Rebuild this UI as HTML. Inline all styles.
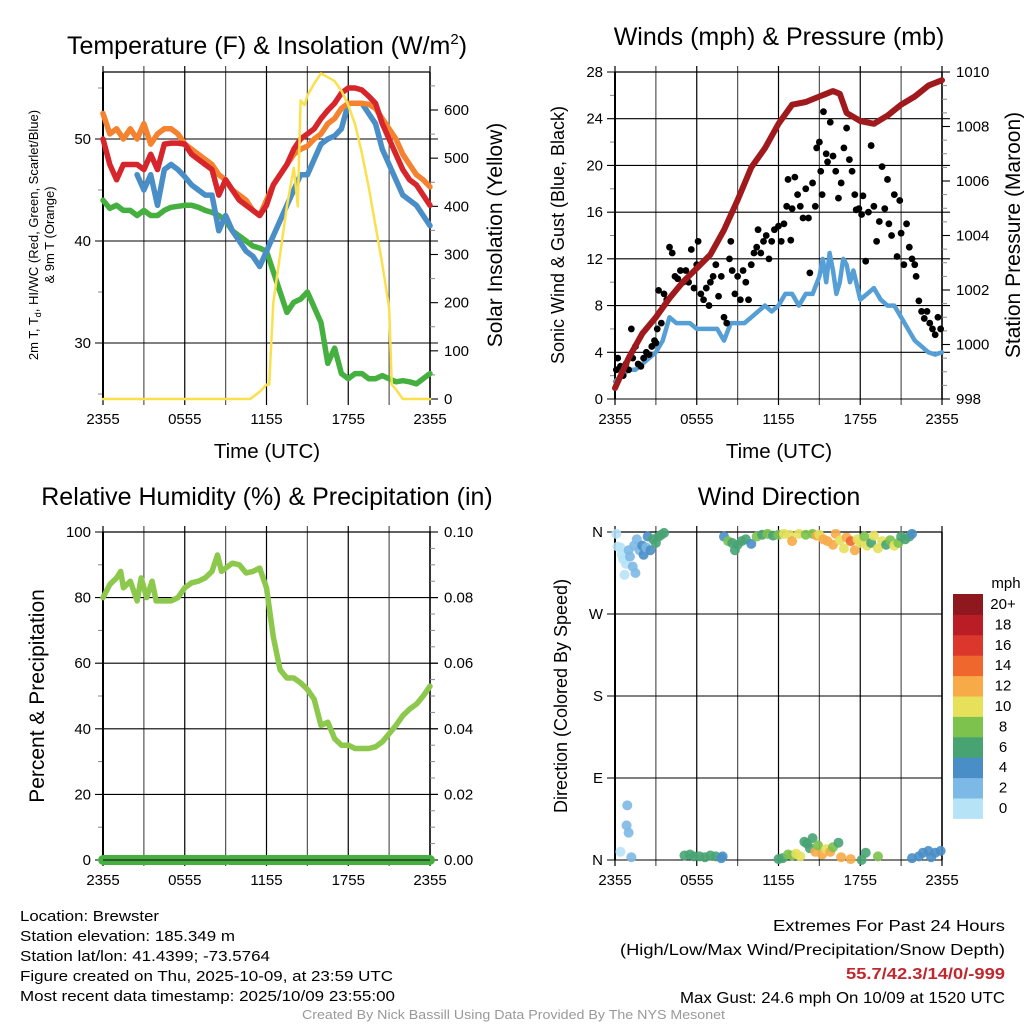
<!DOCTYPE html>
<html><head><meta charset="utf-8"><style>
html,body{margin:0;padding:0;background:#fff;}
svg{display:block;font-family:"Liberation Sans",sans-serif;}
</style></head><body>
<svg id="s" width="1024" height="1024" viewBox="0 0 1024 1024" xmlns="http://www.w3.org/2000/svg"></svg>
<script>
// ---------- DATA ----------
const xTickLabels = ["2355","0555","1155","1755","2355"];
const tempHours = [0,0.5,1,1.5,2,2.5,3,3.5,4,4.5,5,5.5,6,6.5,7,7.5,8,8.5,9,9.5,10,10.5,11,11.5,12,12.5,13,13.5,14,14.5,15,15.5,16,16.5,17,17.5,18,18.5,19,19.5,20,20.5,21,21.5,22,22.5,23,23.5,24];
const temp2m = [50,47.5,46,47.5,47.5,47.5,47,48.5,47,49.5,49.6,49.6,49.5,48.5,48,47.5,47,44.5,46,45,44,43.5,43,42.5,43.5,45.5,46.5,47.5,49,50,50.5,51,52,52.8,53.5,54.5,55,55,54.8,54.2,53.5,51.5,50,48.5,47,46,45.5,44.5,43.5];
const temp9m = [52.5,50.5,51,50,51,50,51.5,49.5,50.5,51,51,50.5,49.5,49,48.5,48,47.5,46.5,46,45,44.5,44,43,42.5,44,45.5,46.5,47.5,48.5,49,49.3,50,50.5,51.5,52,53,53.5,53.5,53.5,53.4,53,52,51,50,48.5,47.5,46.5,46,45.3];
const dewpt = [44,43.2,43.5,43,43,42.5,43,42.5,42.5,43,43.3,43.4,43.5,43.5,43.3,43,42.8,42.5,42,41,40.5,40,39.5,39.3,39,37,35,33,34,34.3,35,33.5,32,28,29.5,27,26.5,27,27,26.5,26.5,26.8,26.5,26.2,26.3,26.2,26,26.5,27];
const hiwcHours = [2.5,3,3.5,4,4.5,5,5.5,6,6.5,7,7.5,8,8.5,9,9.5,10,10.5,11,11.5,12,12.5,13,13.5,14,14.5,15,15.5,16,16.5,17,17.5,18,18.5,19,19.5,20,20.5,21,21.5,22,22.5,23,23.5,24];
const hiwc = [46.5,45,46.5,43.5,47,47.5,47,46.3,45.5,45,44.5,44.5,41,42.5,41,40,39,38.5,37.5,39,40.5,42,43.5,45,46.5,46.5,48,49.5,50,50.3,51,53.5,53.5,53.5,52.5,51.5,49,47.5,46,44.5,44,43.5,42.5,41.5];
const solarHours = [0,10.8,11.5,12,12.2,12.5,13,13.5,14,14.3,14.5,14.8,15,15.5,16,16.5,17,17.5,18,18.5,19,19.5,20,20.5,21,21.2,21.5,22,24];
const solar = [0,0,15,30,30,200,300,400,480,400,620,610,630,655,676,668,660,640,610,570,510,440,360,280,190,30,20,0,0];

const presHours = [0,1,2,3,4,5,6,7,8,9,10,11,12,13,14,15,15.5,16,16.5,17,18,19,20,21,22,23,24];
const pressure = [998.4,999.5,1000.4,1001,1001.7,1002.3,1002.8,1003.3,1004.2,1005.3,1006.5,1007.2,1008.1,1008.8,1008.9,1009.1,1009.2,1009.3,1009.2,1008.5,1008.2,1008.1,1008.4,1008.8,1009.1,1009.5,1009.7];
const windHours = [0,0.5,1,1.5,2,2.5,3,3.5,4,4.5,5,5.5,6,6.5,7,7.5,8,8.5,9,9.5,10,10.5,11,11.5,12,12.5,13,13.5,14,14.5,15,15.25,15.5,15.75,16,16.25,16.5,16.75,17,17.25,17.5,18,18.5,19,19.5,20,20.5,21,21.5,22,22.5,23,23.5,24];
const windSpeed = [1.5,2,2.5,2.5,3,3.5,4,5,7,6.5,6.5,6.5,6,6,6,6,5,6.5,6.5,6.5,7,7.5,8,7.5,8,9,9,8,9,9,10.5,12,10,12.5,11,9,10,12,11.5,10,11,8.5,9,9.5,8.5,8,8,7,6,5,4.5,4,3.8,4];
const gustHours = [0.1,0.2,0.4,0.6,0.8,1,1.2,1.3,1.5,1.7,1.9,2.1,2.3,2.5,2.7,2.9,3,3.1,3.2,3.4,3.6,3.8,4,4.2,4.4,4.6,4.8,5,5.2,5.4,5.6,5.8,6,6.1,6.3,6.5,6.7,6.9,7,7.2,7.4,7.6,7.8,8,8.2,8.4,8.5,8.6,8.8,9,9.2,9.4,9.6,9.8,10,10.2,10.4,10.5,10.7,10.9,11.1,11.3,11.5,11.7,12,12.2,12.4,12.6,12.7,12.9,13,13.2,13.4,13.6,13.8,14,14.2,14.3,14.5,14.7,14.8,15,15.1,15.2,15.3,15.5,15.6,15.8,16,16.2,16.4,16.6,16.8,17,17.2,17.4,17.6,17.7,17.9,18.1,18.2,18.4,18.6,18.8,19,19.2,19.4,19.6,19.8,20,20.1,20.3,20.5,20.7,20.9,21,21.2,21.4,21.6,21.8,22,22.1,22.3,22.5,22.7,22.9,23.1,23.3,23.5,23.7,23.9];
const gusts = [2.5,3.5,2.8,2,3,2.5,6,3.5,4.5,3,2.8,3.5,4,3.8,4.5,5,4.8,6,9.3,6.5,9,8.5,13,12.5,10.5,10.3,11,10,11,10,12.8,9.5,11.5,13.5,9,8.5,9.5,8,10,10.5,11.5,8.8,10.5,7,6.5,12,13.5,11,9,10.5,8.5,11,10,8.5,11.5,12.5,13,14.5,12.5,13.5,14,12,13.5,14.5,14.8,13.5,15,16.5,18.8,13.6,16.3,19,17.5,16.5,15.5,18,15.5,10.8,18.5,16.5,21.5,22,19.5,17.5,24.6,21,20.3,23.7,20.8,19.5,17.2,18.5,21.5,23.2,20.5,19.5,17.5,16.2,16.3,15.8,17.4,11.8,16,21.7,16.5,13.5,15.2,19.9,16.3,18.8,15,14,17.5,12.2,17,14.2,11.5,15,13,12,11.5,10.5,8.4,7.5,6.9,7.5,6.5,6,5.5,7,6];

const rhHours = [0,0.5,1,1.3,1.5,2,2.5,2.8,3.2,3.6,3.9,4.5,5,5.5,6,6.5,7,7.5,8,8.4,8.7,9,9.5,10,10.5,11,11.5,12,12.5,13,13.5,14,14.5,15,15.5,16,16.5,17,17.5,18,18.5,19,19.5,20,20.5,21,21.5,22,22.5,23,23.5,24];
const rh = [80,84,86,88,83,85,79,86,80,85,79,79,79,80,83,84.5,85,86,88,93,88,89,90.5,90,87.5,88,89,83,68,58,55.5,55.5,54,52,49,41,42,37,35,35,34,34,34,34.5,36,38.5,41,44,46,47.5,50,53];
const precipSegments = [[0,9.05],[9.3,24]];
const precipValue = [0,0];

const dirHours = [0.1,0.2,0.4,0.5,0.6,0.7,0.8,1.0,1.1,1.3,1.4,1.5,1.6,1.8,2.0,2.1,2.3,2.4,2.6,2.8,3.0,3.2,3.4,3.6,8.0,8.3,8.6,8.8,9,9.3,9.6,10,10.4,10.8,11.2,11.6,12,12.4,12.8,13,13.5,14,14.5,14.8,15,15.3,15.6,16,16.2,16.5,16.8,17,17.3,17.6,17.8,18,18.3,18.5,18.8,19,19.3,19.6,19.9,20.2,20.5,20.8,21,21.3,21.6,21.8,0.4,0.9,0.85,1.0,1.2,5.1,5.5,5.8,6.2,6.6,7,7.4,7.8,7.9,12,12.3,12.7,13,13.3,13.6,13.9,14.1,14.3,14.5,14.7,14.9,15.2,15.5,15.8,16,16.4,16.6,17.3,18.1,18.4,19.3,21.8,22.3,22.6,23,23.5,23.9,23.2];
const dirDeg = [358,344,343,335,330,313,325,340,333,322,345,315,352,340,345,335,343,355,340,352,348,355,357,359,355,350,348,340,346,350,352,347,355,357,358,356,357,358,357,350,358,357,358,356,357,352,350,346,358,351,342,354,350,340,352,348,355,345,348,356,342,350,346,351,345,348,355,352,355,358,9,60,38,30,3,5,6,4,4,3,5,4,2,4,1,2,6,5,7,4,20,18,13,24,9,16,6,12,9,14,19,3,1,0,8,4,2,4,8,10,8,10,3];
const dirSpeed = [0,1,1,0,0,0,1,2,2,2,2,2,3,3,4,4,3,4,5,6,6,6,6,7,4,8,6,6,6,7,6,4,8,7,8,6,8,10,10,12,10,8,9,12,11,13,12,12,13,10,10,12,14,12,10,10,8,10,7,10,10,10,6,8,10,9,7,6,6,4,0,3,2,2,3,6,6,6,6,6,6,6,4,4,6,7,8,8,10,10,6,6,6,7,12,8,12,10,12,8,7,12,12,6,6,8,4,4,4,4,4,4,4];
const speedLabels = ["0","2","4","6","8","10","12","14","16","18","20+"];
const speedColors = ["#b7e3f7","#7db9e6","#4a8ec7","#48a373","#7cc24c","#e6e05b","#f6aa48","#ef672d","#dc372d","#bb1d27","#8e181d"];

// ---------- HELPERS ----------
const NS="http://www.w3.org/2000/svg";
const svg=document.getElementById('s');
function el(tag,attrs,parent){const e=document.createElementNS(NS,tag);for(const k in attrs)e.setAttribute(k,attrs[k]);(parent||svg).appendChild(e);return e;}
function txt(str,attrs,parent){const e=el('text',attrs,parent);e.textContent=str;return e;}
function lin(d0,d1,r0,r1){return v=>r0+(v-d0)/(d1-d0)*(r1-r0);}

function frame(name,L,T,R,B,yMaj,yMin,yFn,yLab,r){
  const g=el('g',{});
  
  
  const xs=lin(0,24,L,R);
  for(let h=0;h<=24;h+=3){const x=xs(h);
    el('line',{x1:x,y1:T-6,x2:x,y2:B+6,stroke:(h%6==0)?'#000':'#555','stroke-width':1.2},g);}
  yMaj.forEach((v,i)=>{const y=yFn(v);
    el('line',{x1:L-8,y1:y,x2:R+(r?8:0),y2:y,stroke:'#000','stroke-width':1.1},g);
    const t=txt(yLab[i],{x:L-12,y:y+5,'text-anchor':'end','font-size':15},g);
    });
  yMin.forEach(v=>{const y=yFn(v);el('line',{x1:L-5,y1:y,x2:L,y2:y,stroke:'#888','stroke-width':1},g);});
  el('line',{x1:L,y1:T,x2:R,y2:T,stroke:'#000','stroke-width':1.2},g);
  el('line',{x1:L,y1:T,x2:L,y2:B,stroke:'#000','stroke-width':2},g);
  el('line',{x1:R,y1:T,x2:R,y2:B,stroke:'#000','stroke-width':1.5},g);
  xTickLabels.forEach((s,i)=>{const t=txt(s,{x:xs(i*6),y:B+25,'text-anchor':'middle','font-size':15},g);
    });
  return g;
}
function rightAxis(g,R,maj,min,fn,labs){
  maj.forEach((v,i)=>{const y=fn(v);el('line',{x1:R,y1:y,x2:R+8,y2:y,stroke:'#000','stroke-width':1.1},g);
    const t=txt(labs[i],{x:R+14,y:y+5,'font-size':15},g);});
  min.forEach(v=>{const y=fn(v);el('line',{x1:R,y1:y,x2:R+5,y2:y,stroke:'#888','stroke-width':1},g);});
}
function poly(xsArr,ysArr,xf,yf,attrs,name){
  const pts=xsArr.map((h,i)=>xf(h).toFixed(1)+','+yf(ysArr[i]).toFixed(1)).join(' ');
  const p=el('polyline',Object.assign({points:pts,fill:'none','stroke-linejoin':'round','stroke-linecap':'round'},attrs));
  return p;
}
function range(a,b,s){const r=[];for(let v=a;v<=b+1e-9;v+=s)r.push(+v.toFixed(3));return r;}
function title(s,x,y,size,name){const t=txt(s,{x:x,y:y,'text-anchor':'middle','font-size':size});return t;}
function vtitle(s,x,y,size,name){const t=txt(s,{x:0,y:0,'text-anchor':'middle','font-size':size,transform:`translate(${x},${y}) rotate(-90)`});return t;}

// ---------- PANEL 1: Temperature ----------
{const L=103,R=430,T=72,B=399;
 const xf=lin(0,24,L,R), yT=lin(30,50,343,139), yS=lin(0,600,399,110);
 const g=frame('temperature-panel',L,T,R,B,[30,40,50],[25,35,45,55],yT,["30","40","50"],true);
 rightAxis(g,R,range(0,600,100),range(50,650,100),yS,range(0,600,100).map(String));
 poly(tempHours,dewpt,xf,yT,{stroke:'#45b03f','stroke-width':5.5},'dewpoint-line');
 poly(hiwcHours,hiwc,xf,yT,{stroke:'#4a8ec7','stroke-width':5.5},'heat-index-line');
 poly(tempHours,temp9m,xf,yT,{stroke:'#f5822e','stroke-width':5.5},'temp-9m-line');
 poly(tempHours,temp2m,xf,yT,{stroke:'#d7262b','stroke-width':5.5},'temp-2m-line');
 poly(solarHours,solar,xf,yS,{stroke:'#fbe04e','stroke-width':2.5},'solar-line');
 const t=title('',267,54,25,'temperature-title');t.innerHTML='Temperature (F) &amp; Insolation (W/m<tspan font-size="15" dy="-10">2</tspan><tspan dy="10">)</tspan>';
 title('Time (UTC)',267,458,20.5,'x-axis-title');
 const v=vtitle('',46,235,13,'temp-y-axis-title');v.innerHTML='<tspan x="0" dy="-8">2m T, T<tspan font-size="9" dy="3">d</tspan><tspan dy="-3">, HI/WC (Red, Green, Scarlet/Blue)</tspan></tspan><tspan x="0" dy="16">&amp; 9m T (Orange)</tspan>';
 vtitle('Solar Insolation (Yellow)',502,235,21,'solar-y-axis-title');
}
// ---------- PANEL 2: Winds ----------
{const L=615,R=942,T=72,B=399;
 const xf=lin(0,24,L,R), yW=lin(0,28,399,72), yP=lin(998,1010,399,72);
 const g=frame('winds-panel',L,T,R,B,range(0,28,4),range(2,26,4),yW,range(0,28,4).map(String),true);
 rightAxis(g,R,range(998,1010,2),range(998.5,1009.5,0.5).filter(v=>v%2!==0),yP,range(998,1010,2).map(String));
 poly(windHours,windSpeed,xf,yW,{stroke:'#559fd6','stroke-width':4.5},'wind-speed-line');
 gustHours.forEach((h,i)=>{const c=el('circle',{cx:xf(h),cy:yW(gusts[i]),r:3.4,fill:'#000'});
   });
 poly(presHours,pressure,xf,yP,{stroke:'#a0191c','stroke-width':6},'pressure-line');
 title('Winds (mph) & Pressure (mb)',779,45,25,'winds-title');
 title('Time (UTC)',779,458,20.5,'x-axis-title');
 vtitle('Sonic Wind & Gust (Blue, Black)',564,235,18,'wind-y-axis-title');
 vtitle('Station Pressure (Maroon)',1020,235,21,'pressure-y-axis-title');
}
// ---------- PANEL 3: RH ----------
{const L=103,R=430,T=532,B=860;
 const xf=lin(0,24,L,R), yR=lin(0,100,860,532), yPr=lin(0,0.1,860,532);
 const g=frame('humidity-panel',L,T,R,B,range(0,100,20),range(10,90,20),yR,range(0,100,20).map(String),true);
 rightAxis(g,R,range(0,0.1,0.02),range(0.005,0.095,0.005).filter(v=>Math.round(v*1000)%20!==0),yPr,["0.00","0.02","0.04","0.06","0.08","0.10"]);
 poly(rhHours,rh,xf,yR,{stroke:'#8cc84b','stroke-width':5.5},'rh-line');
 precipSegments.forEach((s,i)=>{const p=el('line',{x1:xf(s[0]),y1:yPr(precipValue[i]),x2:xf(s[1]),y2:yPr(precipValue[i]),stroke:'#45b03f','stroke-width':10,'stroke-linecap':'round'});
   });
 el('line',{x1:L,y1:B,x2:R,y2:B,stroke:'#222','stroke-width':1.2});
 title('Relative Humidity (%) & Precipitation (in)',267,505,25,'humidity-title');
 vtitle('Percent & Precipitation',44,696,21,'rh-y-axis-title');
}
// ---------- PANEL 4: Wind direction ----------
{const L=615,R=942,T=532,B=860;
 const xf=lin(0,24,L,R), yD=lin(0,360,860,532);
 frame('direction-panel',L,T,R,B,[0,90,180,270,360],[],yD,["N","E","S","W","N"],false);
 dirHours.forEach((h,i)=>{const bin=Math.min(10,Math.floor(dirSpeed[i]/2));
   const c=el('circle',{cx:xf(h),cy:yD(dirDeg[i]),r:5,fill:speedColors[bin],'fill-opacity':0.9});
   });
 title('Wind Direction',779,505,25,'direction-title');
 vtitle('Direction (Colored By Speed)',567,696,18,'direction-y-axis-title');
 const lg=el('g',{});
 const bh=20.4, top=594;
 speedColors.forEach((c,i)=>{const y=top+(10-i)*bh;
   const r=el('rect',{x:953,y:y,width:30,height:bh+0.5,fill:c},lg);
   const t=txt(speedLabels[i],{x:1003,y:y+15,'text-anchor':'middle','font-size':15},lg);});
 const m=txt('mph',{x:1006,y:588,'text-anchor':'middle','font-size':15},lg);
}
// ---------- FOOTER ----------
const leftInfo=[["Location: Brewster",139],["Station elevation: 185.349 m",215],["Station lat/lon: 41.4399; -73.5764",250],["Figure created on Thu, 2025-10-09, at 23:59 UTC",373],["Most recent data timestamp: 2025/10/09 23:55:00",375]];
leftInfo.forEach((a,i)=>{const t=txt(a[0],{x:20,y:921+i*20,'font-size':15,textLength:a[1],lengthAdjust:'spacingAndGlyphs'});
  });
const rightInfo=[["Extremes For Past 24 Hours",232,'#000','normal',931],["(High/Low/Max Wind/Precipitation/Snow Depth)",385,'#000','normal',955],["55.7/42.3/14/0/-999",159,'#c1272d','bold',979],["Max Gust: 24.6 mph On 10/09 at 1520 UTC",325,'#000','normal',1003]];
rightInfo.forEach(a=>{const t=txt(a[0],{x:1005,y:a[4],'text-anchor':'end','font-size':16,fill:a[2],'font-weight':a[3],textLength:a[1],lengthAdjust:'spacingAndGlyphs'});
  });
{const t=txt('Created By Nick Bassill Using Data Provided By The NYS Mesonet',{x:302,y:1019,'font-size':13,fill:'#999',textLength:423,lengthAdjust:'spacingAndGlyphs'});
 }
</script>
</body></html>
